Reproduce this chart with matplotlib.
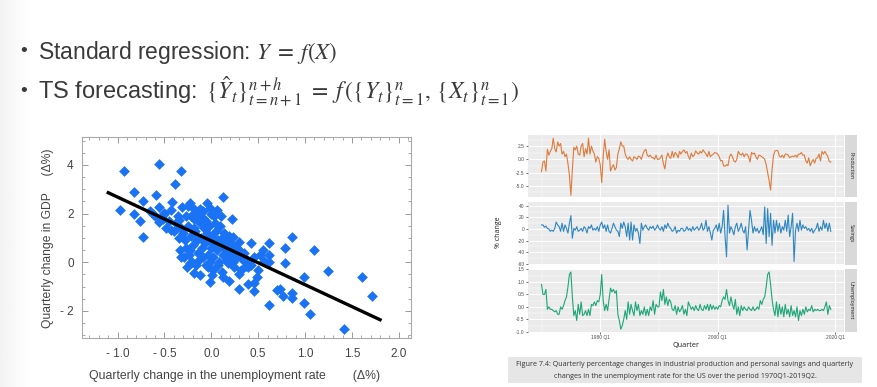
import numpy as np
import matplotlib
matplotlib.use('Agg')
import matplotlib.pyplot as plt
from matplotlib.ticker import MultipleLocator, FixedLocator

plt.rcParams['font.family'] = ['Liberation Sans', 'DejaVu Sans']
plt.rcParams['mathtext.fontset'] = 'stix'

W, H = 877, 387

# scatter: quarterly change in unemployment rate vs GDP
unemp_change = [
    -0.93, -0.56, -0.32, -0.39, -0.83, -0.97, -0.83, -0.73, -0.76, -0.73,
    -0.59, -0.56, -0.56, -0.65, -0.51, -0.43, -0.42, -0.32, 0.12, 0.22,
    0.42, 0.61, 0.86, 0.79, 1.09, 0.55, 0.61, 0.56, 0.61, 0.79,
    1.24, 0.99, 1.61, 1.71, 0.62, 0.99, 1.05, 1.41, 0.86, 0.86,
    0.70, 0.73, 0.76, 0.49, 0.46, 0.46, 0.39, 0.37, 0.39, 0.29,
    0.19, 0.29, 0.12, 0.01, -0.01, -0.12, -0.19, -0.23, -0.16, -0.06,
    0.18, 0.24, 0.34, 0.27, 0.29, 0.23, 0.17, 0.10, 0.06, -0.05,
    -0.01, -0.12, -0.09, -0.25, -0.23, -0.31, -0.27, -0.35, -0.33, -0.43,
    -0.30, -0.28, -0.25, -0.22, -0.20, -0.18, -0.17, -0.15, -0.14, -0.12,
    -0.11, -0.10, -0.09, -0.08, -0.07, -0.05, -0.04, -0.03, -0.02, 0.00,
    0.01, 0.02, 0.03, 0.05, 0.06, 0.07, 0.08, 0.10, 0.11, 0.12,
    0.14, 0.15, 0.17, 0.18, 0.20, 0.21, 0.23, 0.25, 0.27, -0.27,
    -0.24, -0.21, -0.19, -0.16, -0.13, -0.06, -0.01, 0.04, 0.09, 0.13,
    0.16, 0.19, 0.22, -0.35, -0.33, -0.38, -0.40, -0.36, -0.45, -0.48,
    -0.52, -0.50, -0.29, -0.26, -0.23, -0.04, 0.02, 0.07, 0.11, 0.24,
    0.30, 0.32, 0.35, 0.38, 0.42, 0.45, 0.50, 0.52, -0.14, -0.09,
    0.00, 0.03, -0.18, -0.22, -0.60, -0.62,
]
gdp_change = [
    3.77, 4.04, 3.75, 3.22, 2.90, 2.15, 1.97, 2.52, 1.70, 1.05,
    2.77, 2.29, 1.67, 2.12, 2.01, 2.15, 2.47, 0.21, 2.70, 1.77,
    0.78, 0.81, 1.05, 0.60, 0.51, 0.51, 0.30, 0.07, 0.03, -0.01,
    -0.37, -0.62, -0.59, -1.37, -1.75, -1.68, -2.11, -2.75, -1.25, -1.48,
    -1.14, -1.11, -1.37, -0.59, -0.86, -1.18, -0.90, -0.15, -0.21, -0.49,
    -0.75, -1.11, -0.59, -0.52, -0.79, -0.52, -0.45, -0.04, -0.11, -0.11,
    -0.04, 0.23, 0.10, 0.58, 0.85, 1.05, 0.92, 1.90, 2.15, 2.42,
    2.22, 2.19, 1.81, 2.32, 2.45, 2.26, 1.90, 1.74, 1.47, 1.33,
    1.20, 0.90, 1.50, 1.10, 0.70, 1.80, 1.30, 0.90, 0.40, 1.60,
    1.00, 0.60, 0.20, 1.40, 0.80, 1.20, 0.30, 0.90, 1.50, 0.60,
    1.10, 0.20, 0.80, 1.30, 0.50, 0.90, 0.00, 0.70, 1.00, 0.30,
    0.60, 0.90, 0.10, 0.50, 0.80, 0.40, 0.00, 0.60, 0.20, 0.60,
    0.30, 0.00, 1.40, 2.00, 0.10, 1.70, 0.00, 1.60, 1.50, 1.20,
    0.30, 1.10, 0.70, 1.00, 0.50, 1.60, 1.30, 1.90, 1.70, 1.40,
    1.80, 2.00, 0.20, -0.20, 0.50, -0.20, -0.30, -0.10, -0.40, -0.20,
    0.50, -0.30, 0.40, 0.10, -0.10, 0.20, -0.30, 0.30, 1.90, 2.10,
    2.00, 1.90, 2.20, 1.90, 1.90, 2.00,
]
fit_intercept = 0.88
fit_slope = -1.8
fit_range = [-1.1, 1.8]

# quarterly series 1970Q1 - 2019Q2
production = [
    -2.3, -0.5, -0.3, -2.2, 1.9, 0.8, 1.5, 2.0, 4.0, 2.0, 1.4, 3.3,
    2.5, 3.0, 1.0, 1.5, 0.5, 1.0, -0.8, -3.0, -6.8, -2.0, 2.3, 1.8,
    2.5, 1.0, 0.8, 2.5, 3.0, 0.5, 2.0, 1.0, 4.0, 1.0, 2.5, 1.6,
    1.0, -0.5, 0.5, 0.2, -1.0, -4.4, 0.5, 3.8, 1.5, 0.0, 1.8, -2.2,
    -1.5, -1.0, -2.0, -1.5, 1.0, 2.0, 3.3, 2.5, 2.5, 1.0, 0.3, 0.0,
    0.5, 0.0, -0.3, 0.5, 0.3, 0.0, 0.6, 0.5, 0.0, 1.0, 1.6, 1.9,
    0.8, 0.5, 0.8, 0.4, 0.3, 0.0, 0.8, 0.0, 0.0, 0.3, 0.8, -0.8,
    -1.8, 0.2, 1.2, 0.5, 0.2, 1.5, 0.4, 1.3, 1.0, 0.3, 1.5, 1.0,
    1.5, 1.8, 1.2, 1.5, 0.6, 0.0, 1.2, 0.5, 0.8, 1.6, 1.2, 1.0,
    1.5, 1.2, 1.8, 1.4, 1.0, 0.5, 1.5, 0.5, 0.8, 1.0, 1.3, 1.2,
    1.0, 0.5, -0.3, -0.2, -1.2, -1.3, -1.0, -1.2, 0.5, 1.0, 0.5, -0.3,
    -0.5, 0.0, 1.5, 1.0, 0.8, 1.2, 0.5, 1.0, 1.0, 0.5, -0.5, 1.3,
    1.0, 1.2, 0.5, 0.0, 0.8, 0.7, 0.5, 0.3, 0.0, -1.0, -2.5, -4.0,
    -5.8, -2.0, 0.8, 1.6, 1.7, 1.6, 0.6, 0.4, 0.8, 0.3, 1.0, 1.0,
    0.8, 0.3, 0.5, 0.6, 0.5, 0.8, 0.4, 1.0, 1.0, 1.3, 0.8, 0.8,
    -0.3, -0.7, 0.3, -1.2, -0.5, 0.0, -0.7, 0.2, 0.3, 1.0, -0.3, 1.5,
    1.0, 1.5, 1.0, 0.5, -0.4, -0.5,
]
savings = [
    7, 7, 3, 5, 1, 0, -4, -2, -4, 1, 12, 7,
    4, -4, 10, -4, 7, 1, -7, 10, 23, -16, 1, -2,
    4, -4, -2, 1, -4, 4, 1, -7, 4, 1, 7, -2,
    1, -2, 4, -4, 7, 12, 1, 7, -4, 7, -4, -7,
    1, 10, 4, -2, -4, -13, 10, 1, 12, 4, -13, 10,
    -19, 12, -19, 7, -4, 1, -7, -25, 10, -2, 4, 7,
    1, -2, 4, 1, 5, -2, 1, 7, 1, -2, 4, -4,
    7, 1, 10, 4, 1, -4, -2, 4, -7, -2, -4, 1,
    1, -4, -2, 4, -2, 1, -4, 4, -2, 1, 4, -2,
    1, 10, -2, 1, 15, -4, 4, -7, -19, -2, 1, 7,
    -4, 10, -7, 4, 32, -13, -48, 41, -7, 4, -2, -10,
    4, 10, -4, 1, 10, -2, -7, 4, -36, -2, 32, 15,
    -7, 4, -4, 1, -7, -2, 4, -10, 38, -25, 35, -13,
    27, -28, 15, -7, 15, -4, 10, -7, 4, -2, 15, -4,
    24, -13, 4, 27, -56, -2, 10, -4, 15, -2, 7, 1,
    4, -2, 1, -4, 1, -7, -2, 1, 10, -4, 4, -2,
    15, 1, 10, -4, 10, -4,
]
unemployment = [
    0.9, 0.5, 0.5, 0.7, -0.1, 0.0, -0.1, -0.1, -0.15, -0.2, -0.15, -0.3,
    -0.3, 0.0, -0.1, 0.05, 0.25, 0.4, 0.8, 1.3, 1.4, 0.4, -0.35, -0.15,
    -0.55, 0.1, -0.3, 0.2, -0.35, -0.3, -0.15, -0.35, -0.1, -0.35, 0.1, 0.05,
    0.2, 0.05, 0.25, 0.2, 0.5, 1.3, 0.25, -0.15, 0.1, -0.15, 0.3, 0.75,
    0.6, 0.7, 0.55, 0.65, -0.3, -0.55, -0.9, -0.75, -0.5, -0.15, -0.5, 0.2,
    -0.3, 0.1, -0.15, -0.35, 0.2, -0.15, 0.1, -0.35, -0.15, -0.3, 0.0, -0.35,
    -0.1, -0.35, 0.0, -0.15, 0.25, -0.3, 0.1, 0.0, 0.0, 0.6, 0.25, 0.7,
    0.1, 0.4, 0.05, 0.3, 0.2, -0.1, -0.15, 0.05, -0.3, 0.0, -0.2, -0.1,
    0.05, -0.3, -0.1, -0.35, 0.2, 0.05, -0.1, 0.0, -0.15, 0.05, -0.1, -0.15,
    0.1, -0.1, -0.15, 0.05, -0.1, 0.1, -0.15, 0.1, -0.1, 0.05, -0.1, 0.0,
    -0.1, 0.05, 0.0, 0.25, 0.4, 0.3, 0.7, 0.25, 0.05, 0.4, 0.1, -0.1,
    0.3, -0.3, 0.0, -0.35, 0.05, -0.15, 0.0, -0.1, -0.15, 0.0, -0.1, -0.15,
    0.0, -0.15, -0.1, 0.0, -0.1, 0.25, 0.1, 0.3, 0.4, 0.8, 1.3, 1.4,
    0.9, 0.3, -0.1, -0.35, 0.2, -0.4, 0.1, -0.3, 0.0, -0.4, 0.1, -0.3,
    -0.1, -0.4, 0.05, -0.35, -0.15, -0.4, 0.0, -0.55, -0.15, -0.35, -0.1, -0.3,
    0.0, -0.2, -0.1, -0.15, 0.05, -0.2, -0.1, -0.15, -0.1, -0.15, -0.15, -0.1,
    -0.15, 0.0, 0.2, -0.3, 0.05, -0.1,
]

series = [
    ('Production', production, '#DE7A3C', [-5.0, -2.5, 0.0, 2.5], ['-5.0', '-2.5', '0.0', '2.5'], (-7.1, 4.6), 1.25),
    ('Savings', savings, '#2E86C1', [-60, -40, -20, 0, 20, 40], ['-60', '-40', '-20', '0', '20', '40'], (-62, 46.5), 10),
    ('Unemployment', unemployment, '#1FA67A', [-1.0, -0.5, 0.0, 0.5, 1.0, 1.5], ['-1.0', '-0.5', '0.0', '0.5', '1.0', '1.5'], (-1.01, 1.52), 0.25),
]
year_ticks = [1980, 2000, 2020]
year_labels = ['1980 Q1', '2000 Q1', '2020 Q1']


def rect(l, t, r, b):
    return [l / W, 1 - b / H, (r - l) / W, (b - t) / H]


fig = plt.figure(figsize=(W / 100, H / 100), dpi=100)
fig.patch.set_facecolor('white')

# slide edge shading
edge = fig.add_axes([0, 0, 30 / W, 1])
edge.imshow(np.linspace(0.92, 1.0, 60)[None, :] ** 0.6, cmap='gray', vmin=0, vmax=1, aspect='auto')
edge.axis('off')

# bullet text
txt_color = '#3a3a3a'
fig.text(20 / W, 1 - 52 / H, '•', fontsize=14, color=txt_color, va='center')
fig.text(38 / W, 1 - 52 / H, r'Standard regression: $Y\;=\;f(X)$', fontsize=16.5,
         color=txt_color, va='center')
fig.text(20 / W, 1 - 92 / H, '•', fontsize=14, color=txt_color, va='center')
fig.text(38 / W, 1 - 92 / H,
         r'TS forecasting: $\,\{\hat{Y}_t\}_{t=n+1}^{n+h}\;=\;f\,(\{Y_t\}_{t=1}^{n},\,\{X_t\}_{t=1}^{n})$',
         fontsize=17, color=txt_color, va='center')

# scatter plot
ax = fig.add_axes(rect(82, 137, 411, 338))
ax.scatter(unemp_change, gdp_change, marker='D', s=30, color='#1A73F5', linewidths=0, zorder=2)
ax.plot(fit_range, [fit_intercept + fit_slope * v for v in fit_range], color='black', lw=2.4, zorder=3)
ax.set_xlim(-1.38, 2.13)
ax.set_ylim(-3.11, 5.15)
ax.set_xticks([-1.0, -0.5, 0.0, 0.5, 1.0, 1.5, 2.0])
ax.set_xticklabels(['- 1.0', '- 0.5', '0.0', '0.5', '1.0', '1.5', '2.0'])
ax.set_yticks([-2, 0, 2, 4])
ax.set_yticklabels(['- 2', '0', '2', '4'])
ax.xaxis.set_minor_locator(MultipleLocator(0.1))
ax.yaxis.set_minor_locator(MultipleLocator(0.5))
ax.tick_params(which='both', direction='in', top=True, right=True, color='#999999',
               labelsize=8.5, labelcolor='#444444')
ax.tick_params(which='major', length=4, width=0.7)
ax.tick_params(which='minor', length=2.5, width=0.6)
ax.tick_params(axis='x', pad=7)
ax.tick_params(axis='y', pad=6)
for s in ax.spines.values():
    s.set_color('#aaaaaa')
    s.set_linewidth(0.8)
fig.text(48 / W, 1 - 238 / H, 'Quarterly change in GDP     (Δ%)', rotation=90, fontsize=8.7,
         color='#444444', ha='center', va='center')
fig.text(235 / W, 1 - 376 / H, 'Quarterly change in the unemployment rate        (Δ%)', fontsize=8.8,
         color='#444444', ha='center', va='center')

# faceted time series
quarters = 1970 + np.arange(len(production)) / 4
panels = [(135, 197), (202, 265), (269, 332)]
for (name, vals, col, yt, ytl, ylim, minor), (top, bot) in zip(series, panels):
    a = fig.add_axes(rect(528, top, 844, bot))
    a.set_facecolor('#EBEBEB')
    a.plot(quarters, vals, color=col, lw=0.8)
    a.set_xlim(1967.7, 2021.5)
    a.set_ylim(*ylim)
    a.set_yticks(yt)
    a.set_yticklabels(ytl)
    a.set_xticks(year_ticks)
    a.xaxis.set_minor_locator(FixedLocator([1970, 1990, 2010]))
    a.yaxis.set_minor_locator(MultipleLocator(minor))
    a.grid(which='major', color='white', lw=0.7)
    a.grid(which='minor', color='white', lw=0.35)
    a.set_axisbelow(True)
    for s in a.spines.values():
        s.set_visible(False)
    a.tick_params(which='major', length=1.5, width=0.5, color='#333333', labelsize=3.5,
                  labelcolor='#4D4D4D', pad=1)
    a.tick_params(which='minor', length=0)
    if name == 'Unemployment':
        a.set_xticklabels(year_labels)
    else:
        a.tick_params(axis='x', which='major', length=0, labelbottom=False)
    st = fig.add_axes(rect(845, top, 857, bot))
    st.set_facecolor('#D9D9D9')
    st.set_xticks([])
    st.set_yticks([])
    for s in st.spines.values():
        s.set_visible(False)
    st.text(0.5, 0.5, name, rotation=-90, fontsize=3.8, color='#1A1A1A',
            ha='center', va='center', transform=st.transAxes, family='Open Sans')

fig.text(498 / W, 1 - 232 / H, '% change', rotation=90, fontsize=5, color='#1A1A1A',
         ha='center', va='center', family='Open Sans')
fig.text(686 / W, 1 - 345 / H, 'Quarter', fontsize=5.2, color='#1A1A1A',
         ha='center', va='center', family='Open Sans')

# caption
cap = fig.add_axes(rect(508, 357, 862, 383))
cap.set_facecolor('#E6E6E6')
cap.set_xticks([])
cap.set_yticks([])
for s in cap.spines.values():
    s.set_visible(False)
cap.text(0.5, 0.73, 'Figure 7.4: Quarterly percentage changes in industrial production and personal savings and quarterly',
         fontsize=5.1, color='#333333', ha='center', va='center', transform=cap.transAxes, family='Open Sans')
cap.text(0.5, 0.26, 'changes in the unemployment rate for the US over the period 1970Q1-2019Q2.',
         fontsize=5.1, color='#333333', ha='center', va='center', transform=cap.transAxes, family='Open Sans')

fig.savefig('out.png', dpi=100)
